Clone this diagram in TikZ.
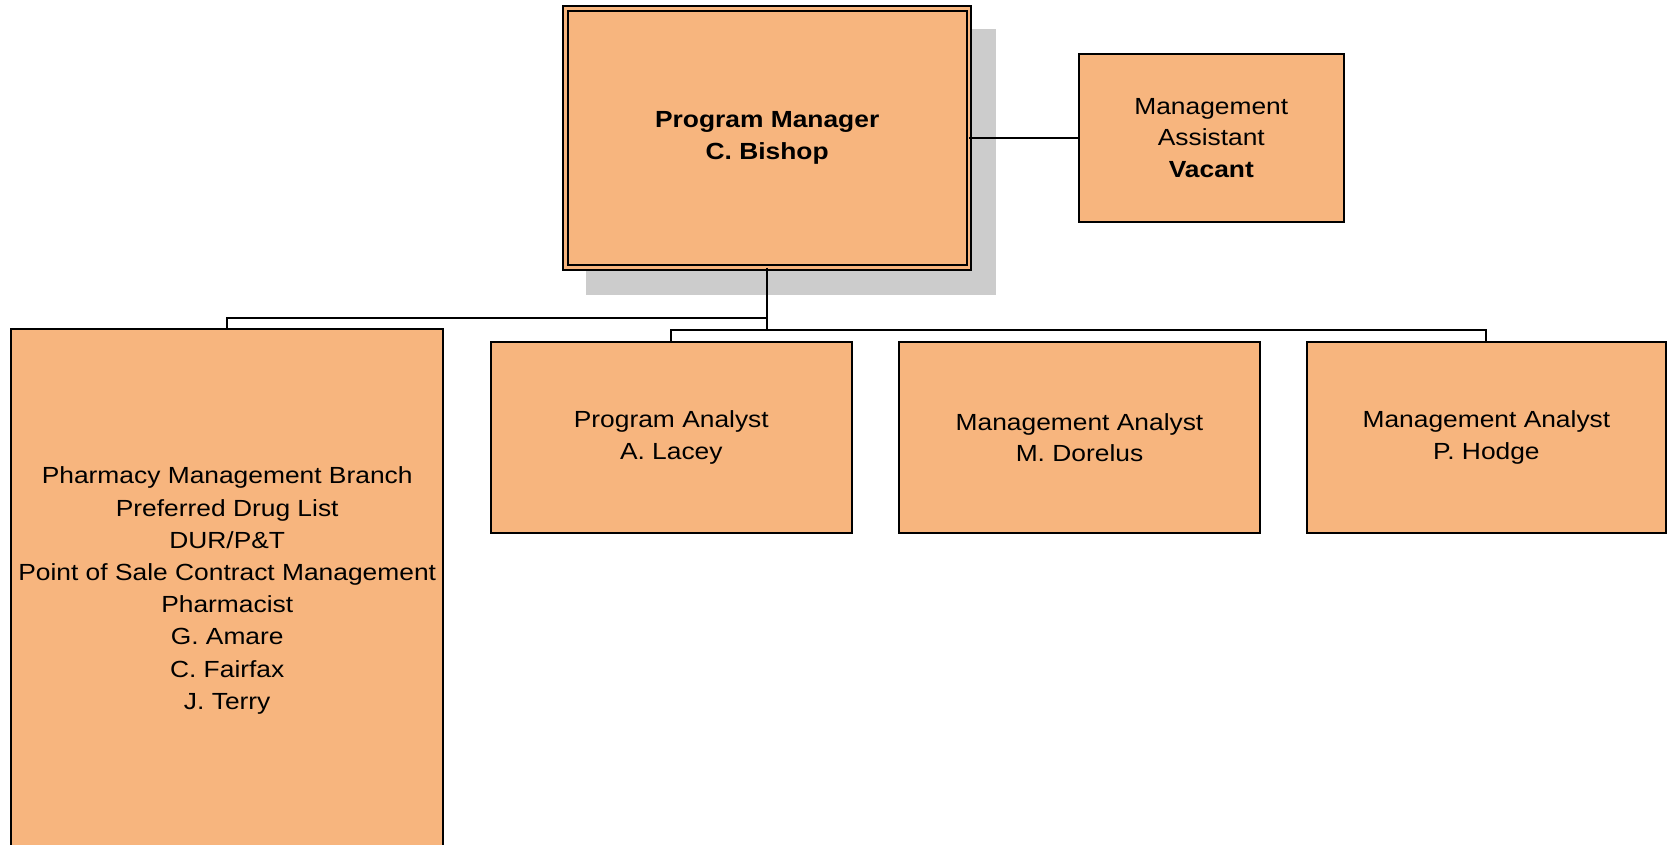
\documentclass[tikz,border=0pt]{standalone}
\usepackage{fontspec}
\setmainfont[FakeStretch=1.13]{Liberation Sans}
\definecolor{boxfill}{HTML}{F7B57E}
\definecolor{shadowgray}{HTML}{CCCCCC}
\tikzset{
  orgbox/.style={draw=black, line width=1.5pt, fill=boxfill, inner sep=0pt, outer sep=0pt,
    align=center, font=\fontsize{17.5pt}{23.8pt}\selectfont,
    execute at begin node={\rule{0pt}{20pt}}},
  emptybox/.style={draw=black, line width=1.5pt, fill=boxfill, inner sep=0pt, outer sep=0pt},
  conn/.style={draw=black, line width=1.5pt},
  boxtext/.style={inner sep=0pt, align=center, font=\fontsize{17.5pt}{24.15pt}\selectfont}
}
\begin{document}
\begin{tikzpicture}[x=0.75pt, y=-0.75pt]
\useasboundingbox (0,0) rectangle (1667,845);
\clip (0,0) rectangle (1667,845);
\fill[white] (0,0) rectangle (1667,845);
% shadow of the manager box
\fill[shadowgray] (586,29) rectangle (996,294.7);
% boxes
\node[orgbox, double=boxfill, double distance=2pt, line width=1.5pt,
      minimum width=302.9pt, minimum height=194.25pt] (pm) at (767.2,138)
      {\bfseries Program Manager\\\bfseries C. Bishop};
\node[orgbox, minimum width=198.5pt, minimum height=126pt] (ma) at (1211.3,138)
      {Management\\Assistant\\\bfseries Vacant};
\node[emptybox, minimum width=324.2pt, minimum height=428.25pt] (pmb) at (227.2,614.5) {};
\node[boxtext] (pmbt) at (227.2,590.5)
      {Pharmacy Management Branch\\Preferred Drug List\\DUR/P\&T\\Point of Sale Contract Management\\Pharmacist\\G. Amare\\C. Fairfax\\J. Terry};
\node[orgbox, minimum width=270.5pt, minimum height=143.25pt] (pa) at (671.3,437.8)
      {Program Analyst\\A. Lacey};
\node[orgbox, minimum width=270.75pt, minimum height=143.5pt] (md) at (1079.5,437.7)
      {Management Analyst\\M. Dorelus};
\node[orgbox, minimum width=268.65pt, minimum height=143.25pt] (ph) at (1486.4,437.8)
      {Management Analyst\\P. Hodge};
% junctions
\coordinate (j) at (767.2,330);
\coordinate (jl) at (767.2,317.7);
% connectors
\draw[conn] (pm.east) -- (ma.west);
\draw[conn] (pm.south) -- (j);
\draw[conn] (jl) -| (pmb.north);
\draw[conn] (pa.north) -- (pa.north |- j) -- (ph.north |- j) -- (ph.north);
\end{tikzpicture}
\end{document}
